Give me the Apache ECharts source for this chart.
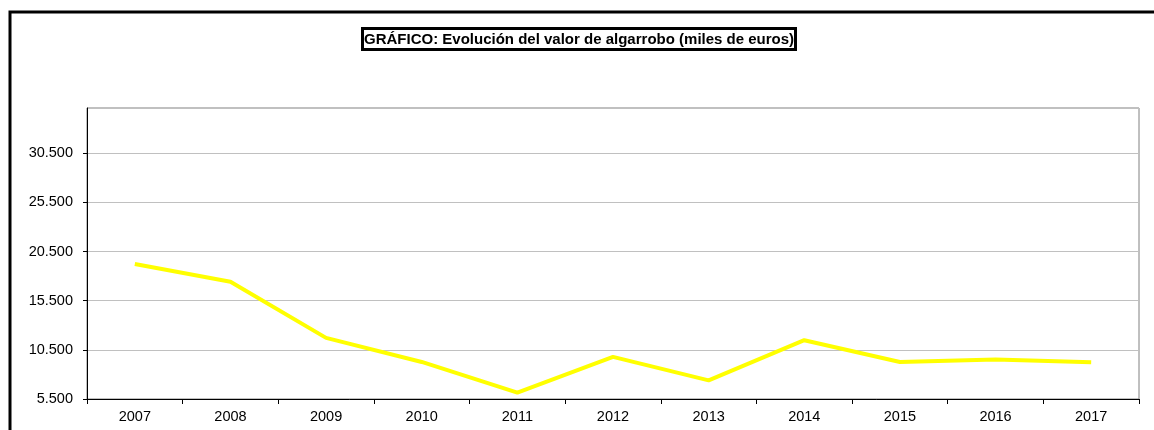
<!DOCTYPE html>
<html>
<head>
<meta charset="utf-8">
<script src="https://cdn.jsdelivr.net/npm/echarts@6/dist/echarts.min.js"></script>
<style>
html,body{margin:0;padding:0;background:#fff;}
#c{width:1154px;height:430px;}
</style>
</head>
<body>
<div id="c"></div>
<script>
const titleText = 'GRÁFICO: Evolución del valor de algarrobo (miles de euros)';
const years = ['2007','2008','2009','2010','2011','2012','2013','2014','2015','2016','2017'];
const values = [19230, 17420, 11720, 9270, 6150, 9780, 7400, 11480, 9270, 9520, 9240];
const yMin = 5500, yMax = 35100, yStep = 5000;

function fmt(v){
  return String(Math.round(v)).replace(/\B(?=(\d{3})+(?!\d))/g, '.');
}

const chart = echarts.init(document.getElementById('c'), null, {renderer:'canvas'});
chart.setOption({
  backgroundColor:'#ffffff',
  animation:false,
  graphic:[{
    type:'rect', silent:true, z:-1,
    shape:{x:10, y:12, width:1200, height:460},
    style:{fill:'none', stroke:'#000', lineWidth:3}
  }],
  title:{
    text:titleText,
    left:362, top:28,
    padding:[3,2,2,2],
    borderColor:'#000', borderWidth:3,
    textStyle:{fontFamily:'Liberation Sans, Arial, sans-serif', fontWeight:'bold', fontSize:15, lineHeight:17, color:'#000'}
  },
  grid:{left:87, top:108, right:15, bottom:31, show:true, borderColor:'#808080', borderWidth:1, backgroundColor:'transparent'},
  xAxis:{
    type:'category', data:years, boundaryGap:true,
    axisLine:{lineStyle:{color:'#000', width:1}},
    axisTick:{show:true, length:5, lineStyle:{color:'#000'}},
    axisLabel:{color:'#000', fontFamily:'Liberation Sans, Arial, sans-serif', fontSize:14.5, margin:10},
    splitLine:{show:false}
  },
  yAxis:{
    type:'value', min:yMin, max:yMax, interval:yStep,
    axisLine:{show:true, lineStyle:{color:'#000', width:1}},
    axisTick:{show:true, length:4, lineStyle:{color:'#000'}},
    axisLabel:{color:'#000', fontFamily:'Liberation Sans, Arial, sans-serif', fontSize:14.5, margin:14, showMaxLabel:false, formatter:fmt},
    splitLine:{show:true, lineStyle:{color:'#c0c0c0', width:1}}
  },
  series:[{
    type:'line', data:values, symbol:'none',
    lineStyle:{color:'#ffff00', width:4},
    itemStyle:{color:'#ffff00'}
  }]
});
</script>
</body>
</html>
